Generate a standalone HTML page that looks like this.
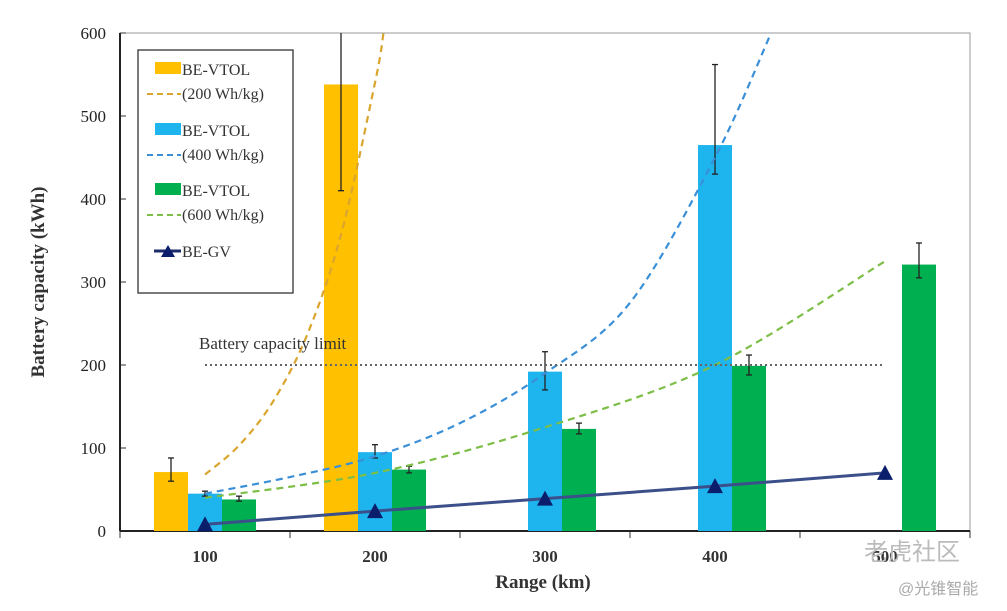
<!DOCTYPE html>
<html><head><meta charset="utf-8"><style>
body{margin:0;background:#fff;}
svg{display:block;font-family:"Liberation Serif",serif;}
</style></head><body>
<svg id="c" width="1007" height="611">
</svg>
<script>
const categories=[100,200,300,400,500];
const vtol200=[71,538,null,null,null];
const vtol200Err=[[60,88],[410,620],null,null,null];
const vtol400=[45,95,192,465,null];
const vtol400Err=[[42,48],[88,104],[170,216],[430,562],null];
const vtol600=[38,74,123,199,321];
const vtol600Err=[[36,42],[70,78],[117,130],[188,212],[305,347]];
const gv=[8,24,39,54,70];
const fit200X=[100,120,140,160,180,200,205];
const fit200Y=[68,103,156,236,357,540,600];
const fit400X=[100,150,200,250,300,350,400,433];
const fit400Y=[45,65,90,130,190,275,450,600];
const fit600X=[100,200,300,400,500];
const fit600Y=[40,70,125,200,325];
const yTicks=[0,100,200,300,400,500,600];
const limitValue=200;

const NS="http://www.w3.org/2000/svg";
const svg=document.getElementById('c');
const X0=120,X1=970,Y0=531,Y1=33;
function yS(v){return Y0-(v/600)*(Y0-Y1);}
function xCat(i){return X0+(i+0.5)*(X1-X0)/categories.length;}
function xR(r){return xCat(0)+(r-100)/100*(X1-X0)/categories.length;}
function el(t,a,p){const e=document.createElementNS(NS,t);for(const k in a)e.setAttribute(k,a[k]);(p||svg).appendChild(e);return e;}
const clip=el('clipPath',{id:'pc'});el('rect',{x:X0,y:Y1,width:X1-X0,height:Y0-Y1},clip);

let f=el('rect',{x:X0,y:Y1,width:X1-X0,height:Y0-Y1,fill:'none',stroke:'#999','stroke-width':1});


yTicks.forEach(v=>{
 let t=el('text',{x:X0-14,y:yS(v)+6,'text-anchor':'end','font-size':17,fill:'#222'});t.textContent=v;
 
 el('line',{x1:X0,x2:X0+6,y1:yS(v),y2:yS(v),stroke:'#333'});
});
for(let i=0;i<=categories.length;i++){const x=X0+i*(X1-X0)/categories.length;el('line',{x1:x,x2:x,y1:Y0,y2:Y0+7,stroke:'#333'});}
categories.forEach((c,i)=>{let t=el('text',{x:xCat(i),y:Y0+31,'text-anchor':'middle','font-size':17,'font-weight':'bold',fill:'#333'});t.textContent=c;
 });
el('line',{x1:X0,x2:X1,y1:Y0,y2:Y0,stroke:'#222','stroke-width':2});
el('line',{x1:X0,x2:X0,y1:Y1,y2:Y0,stroke:'#222','stroke-width':2});

let yt=el('text',{x:44,y:282,'text-anchor':'middle','font-size':19,'font-weight':'bold',fill:'#333',transform:'rotate(-90 44 282)'});yt.textContent='Battery capacity (kWh)';

let xt=el('text',{x:543,y:588,'text-anchor':'middle','font-size':19,'font-weight':'bold',fill:'#333'});xt.textContent='Range (km)';


const g=el('g',{'clip-path':'url(#pc)'});
const bw=34;
[[vtol200,vtol200Err,'#FFC000',-1],[vtol400,vtol400Err,'#1EB4EE',0],[vtol600,vtol600Err,'#00B050',1]].forEach(([vals,errs,col,off])=>{
 vals.forEach((v,i)=>{if(v==null)return;const cx=xCat(i)+off*bw;
  let r=el('rect',{x:cx-bw/2,y:yS(v),width:bw,height:Y0-yS(v),fill:col},g);
  
  const e=errs[i];if(e){el('line',{x1:cx,x2:cx,y1:yS(e[0]),y2:yS(e[1]),stroke:'#222','stroke-width':1.3},g);
   el('line',{x1:cx-3,x2:cx+3,y1:yS(e[0]),y2:yS(e[0]),stroke:'#222','stroke-width':1.3},g);
   el('line',{x1:cx-3,x2:cx+3,y1:yS(e[1]),y2:yS(e[1]),stroke:'#222','stroke-width':1.3},g);}
 });
});
function smooth(xs,ys){const p=xs.map((x,i)=>[xR(x),yS(ys[i])]);let d='M'+p[0][0]+','+p[0][1];
 for(let i=0;i<p.length-1;i++){const p0=p[i-1]||p[i],p1=p[i],p2=p[i+1],p3=p[i+2]||p2;
  d+=` C${p1[0]+(p2[0]-p0[0])/6},${p1[1]+(p2[1]-p0[1])/6} ${p2[0]-(p3[0]-p1[0])/6},${p2[1]-(p3[1]-p1[1])/6} ${p2[0]},${p2[1]}`;}return d;}
[[fit200X,fit200Y,'#D9A52E','fit-200'],[fit400X,fit400Y,'#3A8FD6','fit-400'],[fit600X,fit600Y,'#7DBE46','fit-600']].forEach(([xs,ys,c,n])=>{
 let p=el('path',{d:smooth(xs,ys),fill:'none',stroke:c,'stroke-width':2.2,'stroke-dasharray':'7 5'},g);
 });
let lim=el('line',{x1:xR(100),x2:xR(500),y1:yS(limitValue),y2:yS(limitValue),stroke:'#666','stroke-width':2,'stroke-dasharray':'2 3'});

let lt=el('text',{x:199,y:yS(limitValue)-16,'font-size':17,fill:'#333'});lt.textContent='Battery capacity limit';

let gl=el('polyline',{points:gv.map((v,i)=>xR(categories[i])+','+yS(v)).join(' '),fill:'none',stroke:'#3B4F8A','stroke-width':3});

gv.forEach((v,i)=>{const x=xR(categories[i]),y=yS(v);let t=el('polygon',{points:`${x-8},${y+7} ${x+8},${y+7} ${x},${y-8}`,fill:'#0B1E6B'});
 });

const lg=el('g',{});
el('rect',{x:138,y:50,width:155,height:243,fill:'#fff',stroke:'#333','stroke-width':1.3},lg);
const items=[['#FFC000','#D9A52E','200',70],['#1EB4EE','#3A8FD6','400',131],['#00B050','#7DBE46','600',191]];
items.forEach(([bc,lc,w,y])=>{el('rect',{x:155,y:y-8,width:26,height:12,fill:bc},lg);
 let t=el('text',{x:182,y:y+5,'font-size':16,fill:'#333'},lg);t.textContent='BE-VTOL';
 el('line',{x1:147,x2:181,y1:y+24,y2:y+24,stroke:lc,'stroke-width':2,'stroke-dasharray':'6 4'},lg);
 let t2=el('text',{x:182,y:y+29,'font-size':16,fill:'#333'},lg);t2.textContent='('+w+' Wh/kg)';});
el('line',{x1:154,x2:181,y1:251,y2:251,stroke:'#1B2A6B','stroke-width':3},lg);
el('polygon',{points:'161,257 175,257 168,245',fill:'#0B1E6B'},lg);
let gt=el('text',{x:182,y:257,'font-size':16,fill:'#333'},lg);gt.textContent='BE-GV';

let w1=el('text',{x:864,y:560,'font-size':24,fill:'#bbb','font-family':'"Liberation Sans","Noto Sans CJK SC",sans-serif'});w1.textContent='老虎社区';

let w2=el('text',{x:898,y:594,'font-size':16,fill:'#aaa','font-family':'"Liberation Sans","Noto Sans CJK SC",sans-serif'});w2.textContent='@光锥智能';

</script>
</body></html>
